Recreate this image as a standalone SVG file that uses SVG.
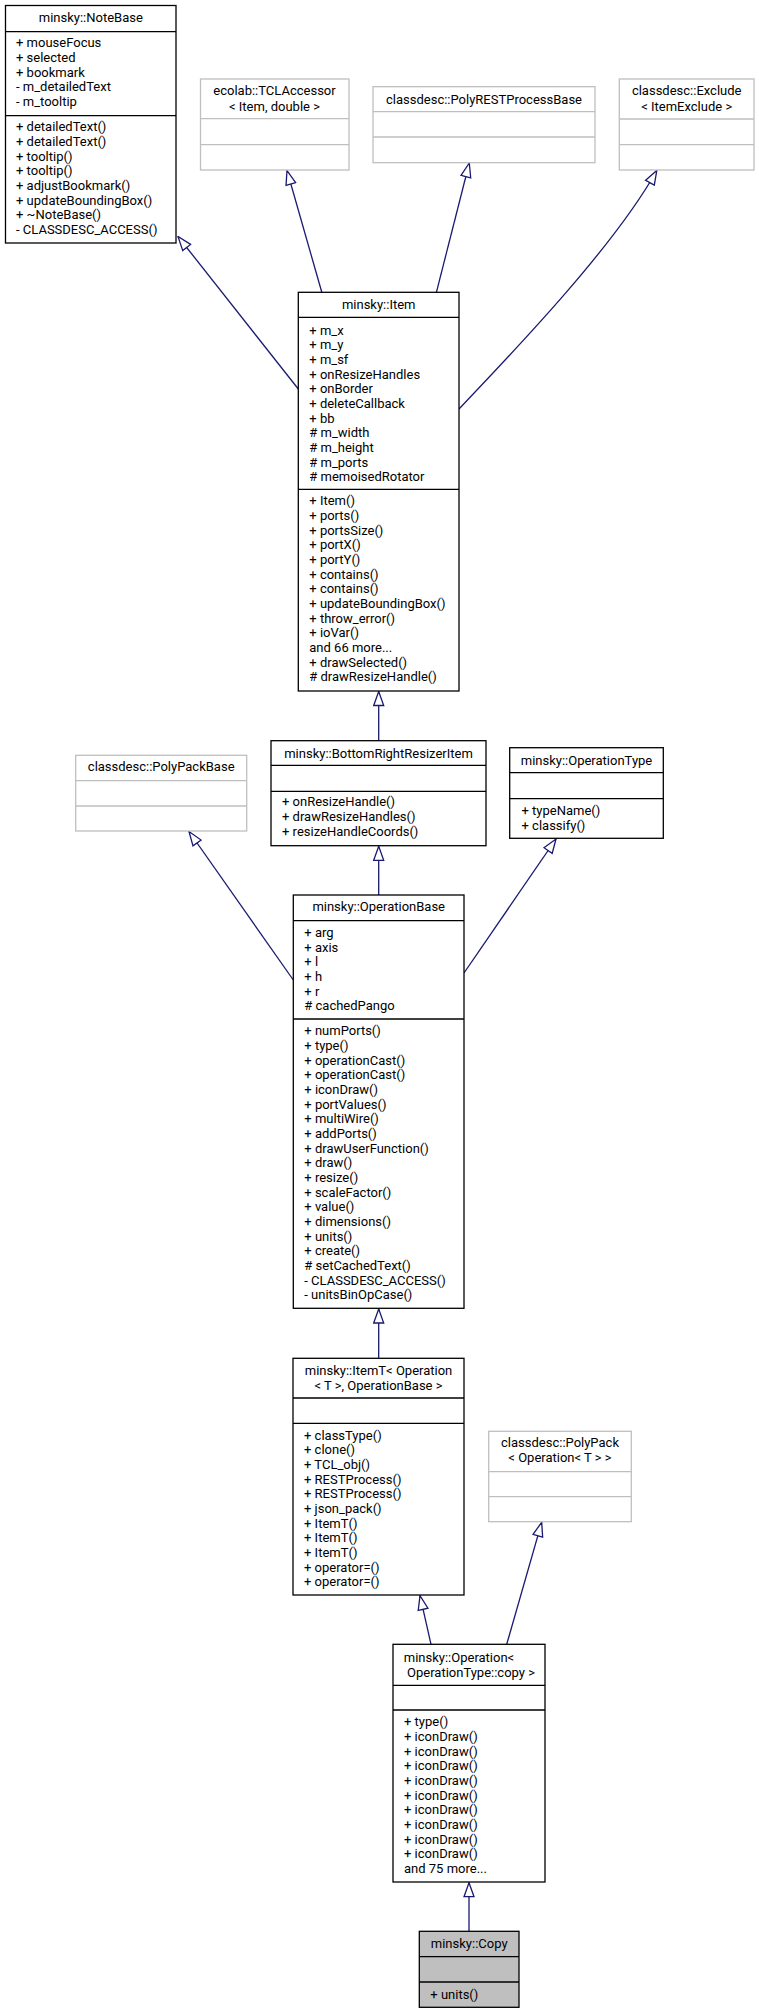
<svg xmlns="http://www.w3.org/2000/svg" width="759" height="2013" viewBox="0 0 759 2013">
<defs>
<style>
.bk{fill:#fff;stroke:#000;stroke-width:1.3}
.gr{fill:#fff;stroke:#bfbfbf;stroke-width:1.3}
.cp{fill:#bfbfbf;stroke:#000;stroke-width:1.3}
.sb{stroke:#000;stroke-width:1.3}
.sg{stroke:#bfbfbf;stroke-width:1.3}
text{font-family:Roboto,"Liberation Sans",sans-serif;font-size:13px;fill:#000}
.c{text-anchor:middle}
.e{fill:none;stroke:#191970;stroke-width:1.3;marker-end:url(#tri)}
</style>
<marker id="tri" markerUnits="userSpaceOnUse" viewBox="0 0 16 12" refX="15" refY="6" markerWidth="16" markerHeight="12" orient="auto">
<path d="M1,1 L15,6 L1,11 Z" fill="#fff" stroke="#191970" stroke-width="1.3"/>
</marker>
</defs>
<rect width="759" height="2013" fill="#fff"/>

<g id="connectors">
<path class="e" d="M298.3,389 L178,236.5"/>
<path class="e" d="M321.8,292.3 L287,170.5"/>
<path class="e" d="M436.4,292.3 L469.3,163"/>
<path class="e" d="M459,409 C520,345 615,245 656.8,170.5"/>
<path class="e" d="M378.7,740.7 L378.7,691.5"/>
<path class="e" d="M293.3,980 L189,831.5"/>
<path class="e" d="M378.7,895 L378.7,846.3"/>
<path class="e" d="M464,973 L556,839"/>
<path class="e" d="M378.7,1358.3 L378.7,1309"/>
<path class="e" d="M431,1644.3 L420,1595.7"/>
<path class="e" d="M506.7,1644.3 L541.7,1522.3"/>
<path class="e" d="M469,1931.3 L469,1882.7"/>
</g>

<g id="NoteBase">
<rect class="bk" x="5.5" y="5.5" width="170.5" height="237.5"/>
<line class="sb" x1="5.5" y1="31.7" x2="176" y2="31.7"/>
<line class="sb" x1="5.5" y1="115.7" x2="176" y2="115.7"/>
<text class="c" x="90.8" y="22">minsky::NoteBase</text>
<text x="16" y="47.2">+ mouseFocus</text>
<text x="16" y="61.8">+ selected</text>
<text x="16" y="76.5">+ bookmark</text>
<text x="16" y="91.2">- m_detailedText</text>
<text x="16" y="105.8">- m_tooltip</text>
<text x="16" y="131.2">+ detailedText()</text>
<text x="16" y="145.8">+ detailedText()</text>
<text x="16" y="160.5">+ tooltip()</text>
<text x="16" y="175.2">+ tooltip()</text>
<text x="16" y="189.8">+ adjustBookmark()</text>
<text x="16" y="204.5">+ updateBoundingBox()</text>
<text x="16" y="219.2">+ ~NoteBase()</text>
<text x="16" y="233.8">- CLASSDESC_ACCESS()</text>
</g>

<g id="TCLAccessor">
<rect class="gr" x="200.5" y="79" width="148.5" height="91"/>
<line class="sg" x1="200.5" y1="118.7" x2="349" y2="118.7"/>
<line class="sg" x1="200.5" y1="144.7" x2="349" y2="144.7"/>
<text class="c" x="274.5" y="95.2">ecolab::TCLAccessor</text>
<text class="c" x="274.5" y="110.5">&lt; Item, double &gt;</text>
</g>

<g id="PolyRESTProcessBase">
<rect class="gr" x="373" y="86.7" width="222" height="76"/>
<line class="sg" x1="373" y1="111.7" x2="595" y2="111.7"/>
<line class="sg" x1="373" y1="137" x2="595" y2="137"/>
<text class="c" x="484" y="103.5">classdesc::PolyRESTProcessBase</text>
</g>

<g id="Exclude">
<rect class="gr" x="619.3" y="79" width="134.7" height="91"/>
<line class="sg" x1="619.3" y1="119" x2="754" y2="119"/>
<line class="sg" x1="619.3" y1="144.7" x2="754" y2="144.7"/>
<text class="c" x="686.7" y="95.2">classdesc::Exclude</text>
<text class="c" x="686.7" y="110.5">&lt; ItemExclude &gt;</text>
</g>

<g id="Item">
<rect class="bk" x="298.3" y="292.3" width="160.7" height="398.7"/>
<line class="sb" x1="298.3" y1="317.3" x2="459" y2="317.3"/>
<line class="sb" x1="298.3" y1="489.3" x2="459" y2="489.3"/>
<text class="c" x="378.7" y="308.8">minsky::Item</text>
<text x="309.3" y="334.5">+ m_x</text>
<text x="309.3" y="349.2">+ m_y</text>
<text x="309.3" y="363.8">+ m_sf</text>
<text x="309.3" y="378.5">+ onResizeHandles</text>
<text x="309.3" y="393.2">+ onBorder</text>
<text x="309.3" y="407.8">+ deleteCallback</text>
<text x="309.3" y="422.5">+ bb</text>
<text x="309.3" y="437.2"># m_width</text>
<text x="309.3" y="451.9"># m_height</text>
<text x="309.3" y="466.5"># m_ports</text>
<text x="309.3" y="481.2"># memoisedRotator</text>
<text x="309.3" y="505.2">+ Item()</text>
<text x="309.3" y="519.9">+ ports()</text>
<text x="309.3" y="534.5">+ portsSize()</text>
<text x="309.3" y="549.2">+ portX()</text>
<text x="309.3" y="563.9">+ portY()</text>
<text x="309.3" y="578.5">+ contains()</text>
<text x="309.3" y="593.2">+ contains()</text>
<text x="309.3" y="607.9">+ updateBoundingBox()</text>
<text x="309.3" y="622.6">+ throw_error()</text>
<text x="309.3" y="637.2">+ ioVar()</text>
<text x="309.3" y="651.9">and 66 more...</text>
<text x="309.3" y="666.6">+ drawSelected()</text>
<text x="309.3" y="681.2"># drawResizeHandle()</text>
</g>

<g id="PolyPackBase">
<rect class="gr" x="75.7" y="755.3" width="171" height="75.7"/>
<line class="sg" x1="75.7" y1="780.7" x2="246.7" y2="780.7"/>
<line class="sg" x1="75.7" y1="806" x2="246.7" y2="806"/>
<text class="c" x="161.2" y="771.2">classdesc::PolyPackBase</text>
</g>

<g id="BottomRightResizerItem">
<rect class="bk" x="271" y="740.7" width="215" height="105"/>
<line class="sb" x1="271" y1="765.3" x2="486" y2="765.3"/>
<line class="sb" x1="271" y1="791.3" x2="486" y2="791.3"/>
<text class="c" x="378.5" y="757.8">minsky::BottomRightResizerItem</text>
<text x="282" y="806.2">+ onResizeHandle()</text>
<text x="282" y="820.8">+ drawResizeHandles()</text>
<text x="282" y="835.5">+ resizeHandleCoords()</text>
</g>

<g id="OperationType">
<rect class="bk" x="509.7" y="747.7" width="153.6" height="90.6"/>
<line class="sb" x1="509.7" y1="772.7" x2="663.3" y2="772.7"/>
<line class="sb" x1="509.7" y1="798.7" x2="663.3" y2="798.7"/>
<text class="c" x="586.5" y="764.5">minsky::OperationType</text>
<text x="521.5" y="814.5">+ typeName()</text>
<text x="521.5" y="829.5">+ classify()</text>
</g>

<g id="OperationBase">
<rect class="bk" x="293.3" y="895" width="170.7" height="413.3"/>
<line class="sb" x1="293.3" y1="920.7" x2="464" y2="920.7"/>
<line class="sb" x1="293.3" y1="1019" x2="464" y2="1019"/>
<text class="c" x="378.7" y="911.2">minsky::OperationBase</text>
<text x="304.3" y="936.8">+ arg</text>
<text x="304.3" y="951.5">+ axis</text>
<text x="304.3" y="966.2">+ l</text>
<text x="304.3" y="980.8">+ h</text>
<text x="304.3" y="995.5">+ r</text>
<text x="304.3" y="1010.2"># cachedPango</text>
<text x="304.3" y="1035.2">+ numPorts()</text>
<text x="304.3" y="1049.9">+ type()</text>
<text x="304.3" y="1064.5">+ operationCast()</text>
<text x="304.3" y="1079.2">+ operationCast()</text>
<text x="304.3" y="1093.9">+ iconDraw()</text>
<text x="304.3" y="1108.6">+ portValues()</text>
<text x="304.3" y="1123.2">+ multiWire()</text>
<text x="304.3" y="1137.9">+ addPorts()</text>
<text x="304.3" y="1152.6">+ drawUserFunction()</text>
<text x="304.3" y="1167.2">+ draw()</text>
<text x="304.3" y="1181.9">+ resize()</text>
<text x="304.3" y="1196.6">+ scaleFactor()</text>
<text x="304.3" y="1211.2">+ value()</text>
<text x="304.3" y="1225.9">+ dimensions()</text>
<text x="304.3" y="1240.6">+ units()</text>
<text x="304.3" y="1255.3">+ create()</text>
<text x="304.3" y="1269.9"># setCachedText()</text>
<text x="304.3" y="1284.6">- CLASSDESC_ACCESS()</text>
<text x="304.3" y="1299.3">- unitsBinOpCase()</text>
</g>

<g id="ItemT">
<rect class="bk" x="293" y="1358.3" width="171" height="236.7"/>
<line class="sb" x1="293" y1="1398" x2="464" y2="1398"/>
<line class="sb" x1="293" y1="1423.3" x2="464" y2="1423.3"/>
<text class="c" x="378.5" y="1374.5">minsky::ItemT&lt; Operation</text>
<text class="c" x="378.5" y="1389.5">&lt; T &gt;, OperationBase &gt;</text>
<text x="304" y="1439.5">+ classType()</text>
<text x="304" y="1454.2">+ clone()</text>
<text x="304" y="1468.8">+ TCL_obj()</text>
<text x="304" y="1483.5">+ RESTProcess()</text>
<text x="304" y="1498.2">+ RESTProcess()</text>
<text x="304" y="1512.9">+ json_pack()</text>
<text x="304" y="1527.5">+ ItemT()</text>
<text x="304" y="1542.2">+ ItemT()</text>
<text x="304" y="1556.9">+ ItemT()</text>
<text x="304" y="1571.5">+ operator=()</text>
<text x="304" y="1586.2">+ operator=()</text>
</g>

<g id="PolyPack">
<rect class="gr" x="488.7" y="1431.3" width="142.6" height="90.4"/>
<line class="sg" x1="488.7" y1="1471.7" x2="631.3" y2="1471.7"/>
<line class="sg" x1="488.7" y1="1496.7" x2="631.3" y2="1496.7"/>
<text class="c" x="560" y="1447.2">classdesc::PolyPack</text>
<text class="c" x="560" y="1461.8">&lt; Operation&lt; T &gt; &gt;</text>
</g>

<g id="Operation">
<rect class="bk" x="393" y="1644.3" width="152" height="237.7"/>
<line class="sb" x1="393" y1="1685.3" x2="545" y2="1685.3"/>
<line class="sb" x1="393" y1="1710" x2="545" y2="1710"/>
<text class="c" x="459" y="1661.8">minsky::Operation&lt;</text>
<text class="c" x="471" y="1676.8">OperationType::copy &gt;</text>
<text x="404" y="1726.2">+ type()</text>
<text x="404" y="1740.9">+ iconDraw()</text>
<text x="404" y="1755.6">+ iconDraw()</text>
<text x="404" y="1770.2">+ iconDraw()</text>
<text x="404" y="1784.9">+ iconDraw()</text>
<text x="404" y="1799.6">+ iconDraw()</text>
<text x="404" y="1814.2">+ iconDraw()</text>
<text x="404" y="1828.9">+ iconDraw()</text>
<text x="404" y="1843.6">+ iconDraw()</text>
<text x="404" y="1858.3">+ iconDraw()</text>
<text x="404" y="1872.9">and 75 more...</text>
</g>

<g id="Copy">
<rect class="cp" x="419.3" y="1931.3" width="99.7" height="76"/>
<line class="sb" x1="419.3" y1="1956.7" x2="519" y2="1956.7"/>
<line class="sb" x1="419.3" y1="1982" x2="519" y2="1982"/>
<text class="c" x="469.2" y="1947.8">minsky::Copy</text>
<text x="430.3" y="1998.5">+ units()</text>
</g>
</svg>
